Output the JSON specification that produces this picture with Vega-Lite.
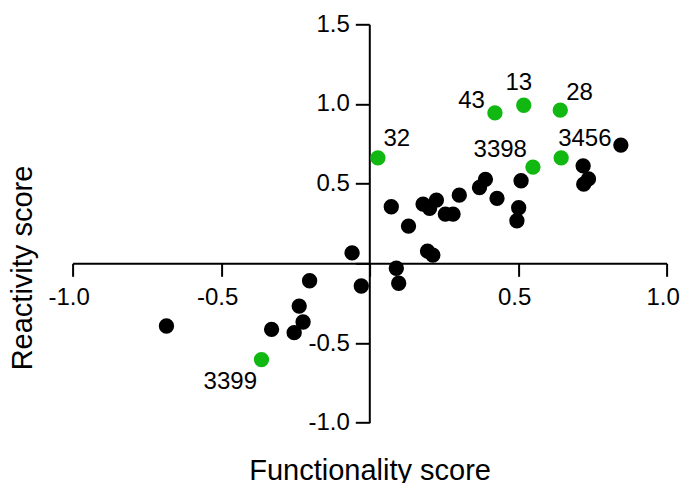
{
  "$schema": "https://vega.github.io/schema/vega-lite/v6.json",
  "autosize": {"type": "none"},
  "width": 594,
  "height": 398.4,
  "padding": {"left": 72.6, "top": 24.3, "right": 13.4, "bottom": 60.3},
  "config": {"font": "Liberation Sans", "view": {"stroke": null}},
  "data": {"values": [
    {"x": -0.684, "y": -0.393, "group": "other", "label": ""},
    {"x": -0.364, "y": -0.604, "group": "highlight", "label": "3399"},
    {"x": -0.330, "y": -0.414, "group": "other", "label": ""},
    {"x": -0.237, "y": -0.268, "group": "other", "label": ""},
    {"x": -0.224, "y": -0.368, "group": "other", "label": ""},
    {"x": -0.254, "y": -0.435, "group": "other", "label": ""},
    {"x": -0.202, "y": -0.109, "group": "other", "label": ""},
    {"x": -0.059, "y": 0.066, "group": "other", "label": ""},
    {"x": -0.028, "y": -0.142, "group": "other", "label": ""},
    {"x": 0.028, "y": 0.662, "group": "highlight", "label": "32"},
    {"x": 0.073, "y": 0.355, "group": "other", "label": ""},
    {"x": 0.090, "y": -0.031, "group": "other", "label": ""},
    {"x": 0.098, "y": -0.125, "group": "other", "label": ""},
    {"x": 0.131, "y": 0.234, "group": "other", "label": ""},
    {"x": 0.180, "y": 0.372, "group": "other", "label": ""},
    {"x": 0.202, "y": 0.345, "group": "other", "label": ""},
    {"x": 0.225, "y": 0.397, "group": "other", "label": ""},
    {"x": 0.195, "y": 0.077, "group": "other", "label": ""},
    {"x": 0.213, "y": 0.052, "group": "other", "label": ""},
    {"x": 0.255, "y": 0.309, "group": "other", "label": ""},
    {"x": 0.281, "y": 0.309, "group": "other", "label": ""},
    {"x": 0.302, "y": 0.428, "group": "other", "label": ""},
    {"x": 0.370, "y": 0.476, "group": "other", "label": ""},
    {"x": 0.390, "y": 0.527, "group": "other", "label": ""},
    {"x": 0.429, "y": 0.408, "group": "other", "label": ""},
    {"x": 0.422, "y": 0.944, "group": "highlight", "label": "43"},
    {"x": 0.519, "y": 0.992, "group": "highlight", "label": "13"},
    {"x": 0.496, "y": 0.267, "group": "other", "label": ""},
    {"x": 0.502, "y": 0.349, "group": "other", "label": ""},
    {"x": 0.510, "y": 0.518, "group": "other", "label": ""},
    {"x": 0.550, "y": 0.604, "group": "highlight", "label": "3398"},
    {"x": 0.642, "y": 0.961, "group": "highlight", "label": "28"},
    {"x": 0.645, "y": 0.662, "group": "highlight", "label": "3456"},
    {"x": 0.719, "y": 0.612, "group": "other", "label": ""},
    {"x": 0.737, "y": 0.530, "group": "other", "label": ""},
    {"x": 0.721, "y": 0.497, "group": "other", "label": ""},
    {"x": 0.846, "y": 0.742, "group": "other", "label": ""}
  ]},
  "encoding": {
    "x": {
      "field": "x", "type": "quantitative",
      "scale": {"domain": [-1, 1], "nice": false, "zero": false},
      "axis": {
        "orient": "bottom", "offset": -159.4, "grid": false,
        "values": [-1, -0.5, 0, 0.5, 1],
        "labelFlush": false, "labelOverlap": false, "labelOffset": -4,
        "labelExpr": "datum.value == 0 ? '' : (datum.value < 0 ? '-' : '') + format(abs(datum.value), '.1f')",
        "domainColor": "#000000", "domainWidth": 2,
        "tickColor": "#000000", "tickWidth": 2, "tickSize": 13,
        "labelFontSize": 24, "labelColor": "#000000", "labelPadding": 9,
        "labelFont": "Liberation Sans",
        "title": "Functionality score", "titleFontSize": 29, "titleFontWeight": "normal",
        "titleColor": "#000000", "titleFont": "Liberation Sans",
        "titleY": 216, "titleBaseline": "alphabetic"
      }
    },
    "y": {
      "field": "y", "type": "quantitative",
      "scale": {"domain": [-1, 1.5], "nice": false, "zero": false},
      "axis": {
        "orient": "left", "offset": -296.7, "grid": false,
        "values": [-1, -0.5, 0, 0.5, 1, 1.5],
        "labelFlush": false, "labelOverlap": false,
        "labelExpr": "datum.value == 0 ? '' : (datum.value < 0 ? '-' : '') + format(abs(datum.value), '.1f')",
        "domainColor": "#000000", "domainWidth": 2,
        "tickColor": "#000000", "tickWidth": 2, "tickSize": 14,
        "labelFontSize": 24, "labelColor": "#000000", "labelPadding": 6,
        "labelFont": "Liberation Sans",
        "title": "Reactivity score", "titleFontSize": 29, "titleFontWeight": "normal",
        "titleColor": "#000000", "titleFont": "Liberation Sans",
        "titleAngle": 270, "titleX": -337.8, "titleY": 243.2,
        "titleAlign": "center", "titleBaseline": "alphabetic"
      }
    }
  },
  "layer": [
    {
      "mark": {"type": "point", "filled": true, "shape": "circle", "size": 235, "opacity": 1},
      "encoding": {
        "color": {"field": "group", "type": "nominal",
          "scale": {"domain": ["other", "highlight"], "range": ["#000000", "#11b811"]},
          "legend": null}
      }
    },
    {
      "transform": [{"filter": "datum.label == '43'"}],
      "mark": {"type": "text", "align": "right", "baseline": "alphabetic", "dx": -10, "dy": -5, "fontSize": 24, "color": "#000000"},
      "encoding": {"text": {"field": "label"}}
    },
    {
      "transform": [{"filter": "datum.label == '3398'"}],
      "mark": {"type": "text", "align": "right", "baseline": "alphabetic", "dx": -6, "dy": -10, "fontSize": 24, "color": "#000000"},
      "encoding": {"text": {"field": "label"}}
    },
    {
      "transform": [{"filter": "datum.label == '13'"}],
      "mark": {"type": "text", "align": "center", "baseline": "alphabetic", "dx": -5, "dy": -15, "fontSize": 24, "color": "#000000"},
      "encoding": {"text": {"field": "label"}}
    },
    {
      "transform": [{"filter": "datum.label == '28'"}],
      "mark": {"type": "text", "align": "left", "baseline": "alphabetic", "dx": 6, "dy": -10.5, "fontSize": 24, "color": "#000000"},
      "encoding": {"text": {"field": "label"}}
    },
    {
      "transform": [{"filter": "datum.label == '3456'"}],
      "mark": {"type": "text", "align": "left", "baseline": "alphabetic", "dx": -3, "dy": -11.5, "fontSize": 24, "color": "#000000"},
      "encoding": {"text": {"field": "label"}}
    },
    {
      "transform": [{"filter": "datum.label == '32'"}],
      "mark": {"type": "text", "align": "left", "baseline": "alphabetic", "dx": 5.5, "dy": -12, "fontSize": 24, "color": "#000000"},
      "encoding": {"text": {"field": "label"}}
    },
    {
      "transform": [{"filter": "datum.label == '3399'"}],
      "mark": {"type": "text", "align": "right", "baseline": "alphabetic", "dx": -4.5, "dy": 29.5, "fontSize": 24, "color": "#000000"},
      "encoding": {"text": {"field": "label"}}
    }
  ]
}
